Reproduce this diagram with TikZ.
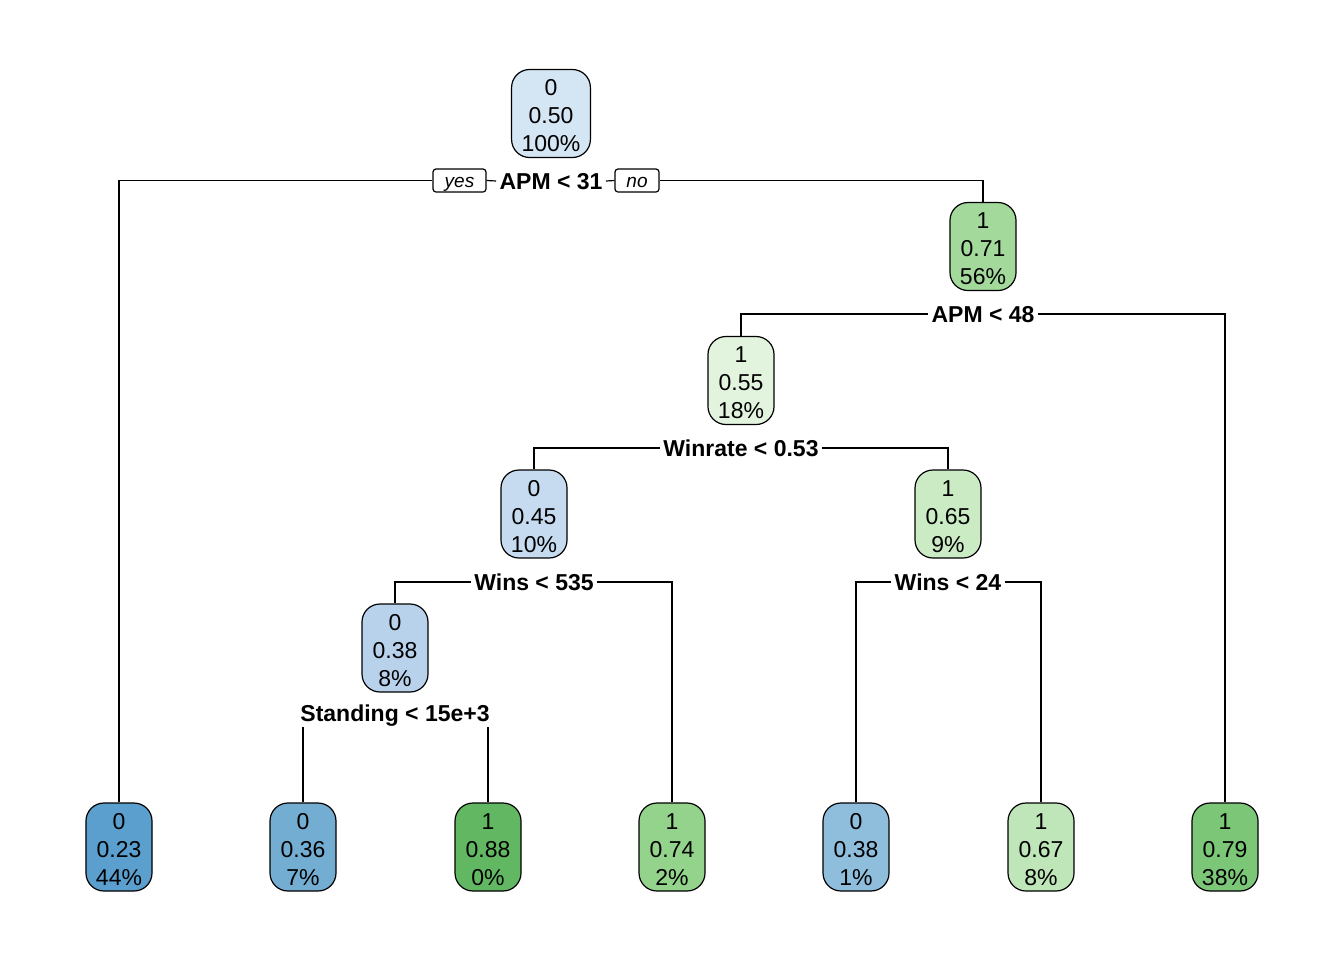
\documentclass[tikz,border=0pt]{standalone}
\usepackage{fontspec}
\setmainfont{Liberation Sans}
\newcommand{\tstrut}{\rule{0pt}{10.4pt}}
\begin{document}
\begin{tikzpicture}[x=0.5pt,y=-0.5pt,
  treenode/.style={draw=black,line width=0.6pt,rounded corners=9pt,align=center,
    font=\fontsize{11.5}{14}\selectfont,inner xsep=5pt,inner ysep=0pt,
    minimum height=44pt,minimum width=33pt},
  splitlab/.style={fill=white,font=\fontsize{11.5}{14}\selectfont\bfseries,
    inner xsep=1.5pt,inner ysep=1.5pt,text height=9.6pt,text depth=1.2pt},
  yn/.style={draw=black,line width=0.6pt,rounded corners=1.5pt,fill=white,
    font=\fontsize{9.5}{11}\selectfont\itshape,minimum height=11.5pt,
    inner sep=0pt,text height=7.4pt,text depth=0.6pt},
  edge/.style={draw=black,line width=0.6pt}]
\useasboundingbox (0,0) rectangle (1344,960);
\definecolor{cRoot}{HTML}{D4E5F4}
\definecolor{cN2}{HTML}{A3DA9C}
\definecolor{cN3}{HTML}{E2F4DD}
\definecolor{cN4}{HTML}{C6DBEF}
\definecolor{cN5}{HTML}{CBEBC5}
\definecolor{cN6}{HTML}{B9D2EC}
\definecolor{cL1}{HTML}{5A9FCD}
\definecolor{cL2}{HTML}{74ADD2}
\definecolor{cL3}{HTML}{62B862}
\definecolor{cL4}{HTML}{93D38B}
\definecolor{cL5}{HTML}{8FBEDD}
\definecolor{cL6}{HTML}{BFE6B8}
\definecolor{cL7}{HTML}{7BC677}
% inner nodes
\node[treenode,fill=cRoot] (root) at (551,113.5) {\tstrut0\\0.50\\100\%};
\node[treenode,fill=cN2] (n2) at (983,246.5) {\tstrut1\\0.71\\56\%};
\node[treenode,fill=cN3] (n3) at (741,380.5) {\tstrut1\\0.55\\18\%};
\node[treenode,fill=cN4] (n4) at (534,514) {\tstrut0\\0.45\\10\%};
\node[treenode,fill=cN5] (n5) at (948,514) {\tstrut1\\0.65\\9\%};
\node[treenode,fill=cN6] (n6) at (395,648) {\tstrut0\\0.38\\8\%};
% leaves
\node[treenode,fill=cL1] (L1) at (119,847) {\tstrut0\\0.23\\44\%};
\node[treenode,fill=cL2] (L2) at (303,847) {\tstrut0\\0.36\\7\%};
\node[treenode,fill=cL3] (L3) at (488,847) {\tstrut1\\0.88\\0\%};
\node[treenode,fill=cL4] (L4) at (672,847) {\tstrut1\\0.74\\2\%};
\node[treenode,fill=cL5] (L5) at (856,847) {\tstrut0\\0.38\\1\%};
\node[treenode,fill=cL6] (L6) at (1041,847) {\tstrut1\\0.67\\8\%};
\node[treenode,fill=cL7] (L7) at (1225,847) {\tstrut1\\0.79\\38\%};
% split labels
\node[splitlab] (s1) at (551,181) {APM < 31};
\node[yn,minimum width=26.5pt] (yes) at (459.5,180.5) {yes};
\node[yn,minimum width=22pt] (no) at (637,180.5) {no};
\node[splitlab] (s2) at (983,314) {APM < 48};
\node[splitlab] (s3) at (741,448) {Winrate < 0.53};
\node[splitlab] (s4) at (534,582) {Wins < 535};
\node[splitlab] (s5) at (948,582) {Wins < 24};
\node[splitlab] (s6) at (395,713) {Standing < 15e+3};
% connectors
\draw[edge] (yes.west) -| (L1.north);
\draw[edge] (yes.east) -- (s1.west);
\draw[edge] (s1.east) -- (no.west);
\draw[edge] (no.east) -| (n2.north);
\draw[edge] (s2.west) -| (n3.north);
\draw[edge] (s2.east) -| (L7.north);
\draw[edge] (s3.west) -| (n4.north);
\draw[edge] (s3.east) -| (n5.north);
\draw[edge] (s4.west) -| (n6.north);
\draw[edge] (s4.east) -| (L4.north);
\draw[edge] (s5.west) -| (L5.north);
\draw[edge] (s5.east) -| (L6.north);
\draw[edge] (s6.south -| L2.north) -- (L2.north);
\draw[edge] (s6.south -| L3.north) -- (L3.north);
\end{tikzpicture}
\end{document}
